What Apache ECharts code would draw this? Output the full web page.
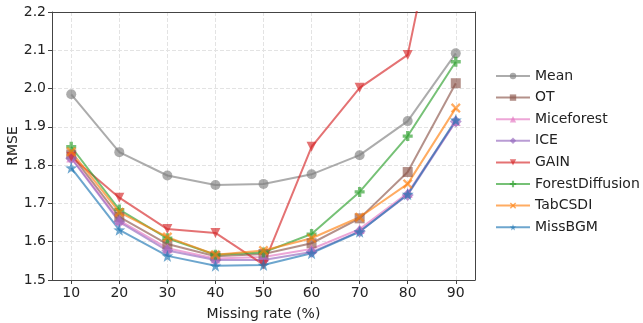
<!DOCTYPE html>
<html>
<head>
<meta charset="utf-8">
<script src="https://cdn.jsdelivr.net/npm/echarts@6/dist/echarts.min.js"></script>
<style>
  html, body { margin: 0; padding: 0; background: #fff; }
  #chart { width: 643px; height: 323px; }
</style>
</head>
<body>
<div id="chart"></div>
<script>
const missingRates = [10, 20, 30, 40, 50, 60, 70, 80, 90]
const xTicks = [10, 20, 30, 40, 50, 60, 70, 80, 90]

const meanVals = [1.985, 1.834, 1.773, 1.748, 1.751, 1.776, 1.826, 1.915, 2.092]
const otVals = [1.828, 1.665, 1.594, 1.562, 1.568, 1.596, 1.661, 1.782, 2.014]
const miceforestVals = [1.820, 1.656, 1.583, 1.556, 1.560, 1.581, 1.633, 1.727, 1.915]
const iceVals = [1.818, 1.652, 1.577, 1.552, 1.552, 1.573, 1.627, 1.722, 1.914]
const gainVals = [1.822, 1.715, 1.633, 1.623, 1.540, 1.848, 2.002, 2.088, 2.690]
const forestDiffVals = [1.848, 1.684, 1.609, 1.566, 1.572, 1.620, 1.730, 1.876, 2.070]
const tabcsdiVals = [1.835, 1.677, 1.612, 1.566, 1.577, 1.609, 1.664, 1.751, 1.949]
const missbgmVals = [1.793, 1.631, 1.563, 1.537, 1.539, 1.570, 1.626, 1.724, 1.918]

const PLUS = 'path://M-1,-3H1V-1H3V1H1V3H-1V1H-3V-1H-1Z'
const XMARK = 'path://M-2,-3L0,-1L2,-3L3,-2L1,0L3,2L2,3L0,1L-2,3L-3,2L-1,0L-3,-2Z'
const STAR = 'path://M0,-10L2.35,-3.24L9.51,-3.09L3.8,1.24L5.88,8.09L0,4L-5.88,8.09L-3.8,1.24L-9.51,-3.09L-2.35,-3.24Z'

const seriesDefs = [
  { name: 'Mean', data: meanVals, color: '#7f7f7f', symbol: 'circle', size: 10 },
  { name: 'OT', data: otVals, color: '#8c564b', symbol: 'rect', size: 10 },
  { name: 'Miceforest', data: miceforestVals, color: '#e377c2', symbol: 'triangle', size: 10 },
  { name: 'ICE', data: iceVals, color: '#9467bd', symbol: 'diamond', size: 12 },
  { name: 'GAIN', data: gainVals, color: '#d62728', symbol: 'triangle', size: 10, rotate: 180 },
  { name: 'ForestDiffusion', data: forestDiffVals, color: '#2ca02c', symbol: PLUS, size: 10 },
  { name: 'TabCSDI', data: tabcsdiVals, color: '#ff7f0e', symbol: XMARK, size: 10 },
  { name: 'MissBGM', data: missbgmVals, color: '#1f77b4', symbol: STAR, size: 12 }
]

const series = seriesDefs.map(function (s) {
  return {
    name: s.name,
    type: 'line',
    data: s.data.map(function (v, i) { return [missingRates[i], v] }),
    symbol: s.symbol,
    symbolSize: s.size,
    symbolRotate: s.rotate || 0,
    showAllSymbol: true,
    clip: true,
    color: s.color,
    lineStyle: { color: s.color, width: 2, opacity: 0.65 },
    itemStyle: { color: s.color, opacity: 0.65 },
    emphasis: { disabled: true },
    animation: false
  }
})

const frameAxis = {
  show: true,
  axisLine: { show: true, onZero: false, lineStyle: { color: '#444' } },
  axisTick: { show: false },
  axisLabel: { show: false },
  splitLine: { show: false }
}

const chart = echarts.init(document.getElementById('chart'))
chart.setOption({
  textStyle: { fontFamily: 'DejaVu Sans' },
  grid: {
    left: 52,
    right: 168,
    top: 12,
    bottom: 43,
    outerBoundsMode: 'none'
  },
  legend: {
    orient: 'vertical',
    left: 490,
    top: 64,
    itemWidth: 34,
    itemHeight: 8,
    itemGap: 7.6,
    textStyle: { fontSize: 14, color: '#222', fontFamily: 'DejaVu Sans' },
    data: seriesDefs.map(function (s) { return s.name })
  },
  xAxis: [
    {
      type: 'value',
      min: 6,
      max: 94,
      name: 'Missing rate (%)',
      nameLocation: 'middle',
      nameGap: 27,
      nameMoveOverlap: false,
      nameTextStyle: { fontSize: 14, color: '#222' },
      axisLine: { show: true, onZero: false, lineStyle: { color: '#444' } },
      axisTick: { show: true, customValues: xTicks, length: 4, lineStyle: { color: '#444' } },
      axisLabel: { customValues: xTicks, fontSize: 14, color: '#222', margin: 6 },
      splitLine: { show: true, lineStyle: { color: '#e3e3e3', type: 'dashed' } }
    },
    Object.assign({ type: 'value', min: 6, max: 94, position: 'top' }, frameAxis)
  ],
  yAxis: [
    {
      type: 'value',
      min: 1.5,
      max: 2.2,
      interval: 0.1,
      name: 'RMSE',
      nameLocation: 'middle',
      nameGap: 32,
      nameMoveOverlap: false,
      nameTextStyle: { fontSize: 14, color: '#222' },
      axisLine: { show: true, onZero: false, lineStyle: { color: '#444' } },
      axisTick: { show: true, length: 4, lineStyle: { color: '#444' } },
      axisLabel: {
        fontSize: 14,
        color: '#222',
        margin: 6,
        formatter: function (v) { return v.toFixed(1) }
      },
      splitLine: { show: true, lineStyle: { color: '#e3e3e3', type: 'dashed' } }
    },
    Object.assign({ type: 'value', min: 1.5, max: 2.2, position: 'right' }, frameAxis)
  ],
  series: series
})
</script>
</body>
</html>
